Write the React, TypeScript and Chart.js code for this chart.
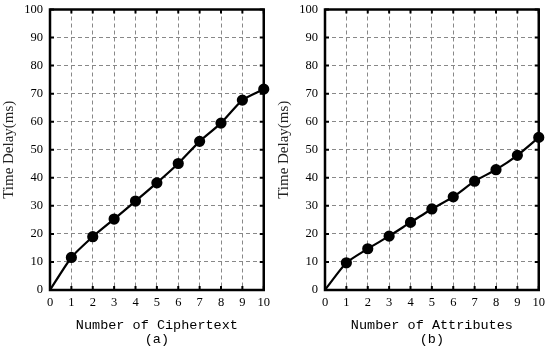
import React, { useEffect, useRef } from "react";
import { Chart, registerables } from "chart.js";
Chart.register(...registerables);

const xValues = [0, 1, 2, 3, 4, 5, 6, 7, 8, 9, 10];
const ciphertextDelay = [0, 11.6, 19.0, 25.3, 31.7, 38.2, 45.1, 53.0, 59.5, 67.7, 71.6];
const attributesDelay = [0, 9.7, 14.7, 19.2, 24.1, 28.9, 33.2, 38.8, 42.9, 48.0, 54.4];
const yTitle = "Time Delay(ms)";
const panelA = { xTitle: "Number of Ciphertext", label: "(a)" };
const panelB = { xTitle: "Number of Attributes", label: "(b)" };

const framePlugin = {
  id: "frame",
  afterDatasetsDraw(chart: any) {
    const { ctx, chartArea: a, scales } = chart;
    ctx.save();
    ctx.strokeStyle = "#000";
    ctx.lineWidth = 2;
    const t = 4;
    ctx.beginPath();
    scales.x.ticks.forEach((tk: any) => {
      const px = scales.x.getPixelForValue(tk.value);
      ctx.moveTo(px, a.bottom);
      ctx.lineTo(px, a.bottom - t);
      ctx.moveTo(px, a.top);
      ctx.lineTo(px, a.top + t);
    });
    scales.y.ticks.forEach((tk: any) => {
      const py = scales.y.getPixelForValue(tk.value);
      ctx.moveTo(a.left, py);
      ctx.lineTo(a.left + t, py);
      ctx.moveTo(a.right, py);
      ctx.lineTo(a.right - t, py);
    });
    ctx.stroke();
    ctx.lineWidth = 2.5;
    ctx.strokeRect(a.left, a.top, a.right - a.left, a.bottom - a.top);
    ctx.restore();
  },
};

function Panel({ data, xTitle, label }: { data: number[]; xTitle: string; label: string }) {
  const ref = useRef<HTMLCanvasElement>(null);
  useEffect(() => {
    const chart = new Chart(ref.current!, {
      type: "line",
      data: {
        datasets: [
          {
            data: xValues.map((x, i) => ({ x, y: data[i] })),
            borderColor: "#000",
            backgroundColor: "#000",
            borderWidth: 2.2,
            pointRadius: xValues.map((x) => (x === 0 ? 0 : 4.5)),
            tension: 0.2,
            clip: false,
          } as any,
        ],
      },
      options: {
        animation: false,
        responsive: false,
        maintainAspectRatio: false,
        layout: { padding: { top: 4, right: 10, left: 0, bottom: 0 } },
        plugins: { legend: { display: false }, tooltip: { enabled: false } },
        scales: {
          x: {
            type: "linear",
            min: 0,
            max: 10,
            ticks: {
              stepSize: 1,
              color: "#000",
              padding: 5,
              font: { family: "Liberation Serif", size: 12.5 },
            },
            grid: { color: "#888", drawTicks: false, lineWidth: 1 },
            border: { display: false, dash: [4, 3] },
            title: {
              display: true,
              text: [xTitle, label],
              color: "#000",
              padding: { top: 0, bottom: 0 },
              font: { family: "Liberation Mono", size: 13.5, lineHeight: 1.05 },
            },
            afterFit(s: any) {
              s.height = 57;
            },
          },
          y: {
            type: "linear",
            min: 0,
            max: 100,
            ticks: {
              stepSize: 10,
              color: "#000",
              padding: 7,
              font: { family: "Liberation Serif", size: 12.5 },
            },
            grid: { color: "#888", drawTicks: false, lineWidth: 1 },
            border: { display: false, dash: [4, 3] },
            title: {
              display: true,
              text: yTitle,
              color: "#222",
              padding: { top: 0, bottom: 1 },
              font: { family: "Liberation Serif", size: 15 },
            },
            afterFit(s: any) {
              s.width = 50;
            },
          },
        },
      },
      plugins: [framePlugin],
    });
    return () => chart.destroy();
  }, [data, xTitle, label]);
  return (
    <canvas
      ref={ref}
      width={275}
      height={352}
      style={{ display: "block", marginTop: -5 }}
    />
  );
}

export default function App() {
  return (
    <div
      style={{
        position: "absolute",
        left: 0,
        top: 0,
        width: 550,
        height: 347,
        overflow: "hidden",
        display: "flex",
        alignItems: "flex-start",
        background: "#fff",
      }}
    >
      <Panel data={ciphertextDelay} xTitle={panelA.xTitle} label={panelA.label} />
      <Panel data={attributesDelay} xTitle={panelB.xTitle} label={panelB.label} />
    </div>
  );
}
